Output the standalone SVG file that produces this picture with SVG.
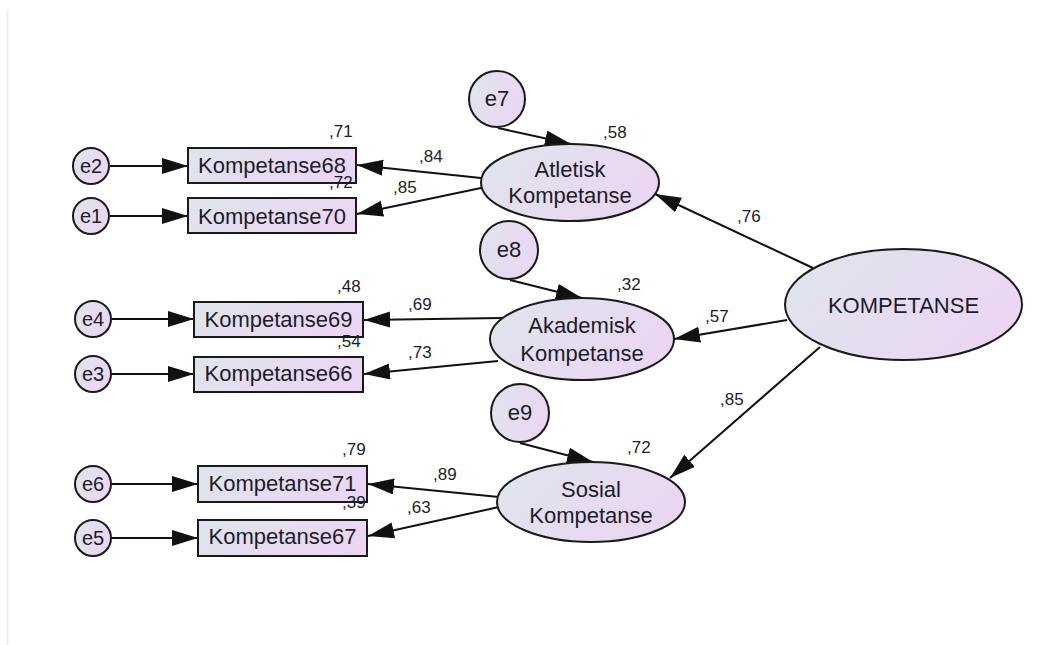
<svg xmlns="http://www.w3.org/2000/svg" width="1050" height="645" viewBox="0 0 1050 645">
<defs>
<linearGradient id="g" x1="0" y1="0.3" x2="1" y2="0.7">
<stop offset="0" stop-color="#dfe4ec"/>
<stop offset="1" stop-color="#ecd5f3"/>
</linearGradient>
<marker id="ah" markerUnits="userSpaceOnUse" markerWidth="28" markerHeight="18" refX="26" refY="8" orient="auto">
<path d="M0,0 L26,8 L0,16 z" fill="#111"/>
</marker>
<style>
.n{fill:url(#g);stroke:#1a1a1a;stroke-width:2}
.t{font-family:"Liberation Sans",Arial,sans-serif;font-size:22px;fill:#1c1c2a;text-anchor:middle}
.e{font-family:"Liberation Sans",Arial,sans-serif;font-size:20px;fill:#1c1c2a;text-anchor:middle}
.l{font-family:"Liberation Sans",Arial,sans-serif;font-size:17px;fill:#1c1c2a}
.c path{stroke:#111;stroke-width:2;fill:none;marker-end:url(#ah)}
</style>
</defs>
<rect width="1050" height="645" fill="#fff"/>
<line x1="7.5" y1="10" x2="7.5" y2="645" stroke="#ececec" stroke-width="1.5"/>

<g id="connectors" class="c">
<path d="M110,166 L188,166"/>
<path d="M110,216 L188,216"/>
<path d="M112,319 L194,319"/>
<path d="M112,374 L194,374"/>
<path d="M112,484 L198,484"/>
<path d="M112,538 L198,538"/>
<path d="M481,178 L357,165"/>
<path d="M481,188 L357,214"/>
<path d="M502,318 L364,320"/>
<path d="M498,361 L364,374"/>
<path d="M499,497 L368,484"/>
<path d="M499,507 L368,536"/>
<path d="M498,128 L571,144"/>
<path d="M510,280 L582,298"/>
<path d="M520,443 L593,462"/>
<path d="M813,268 L655,194"/>
<path d="M787,320 L674,339"/>
<path d="M820,347 L670,478"/>
</g>

<g id="e2"><circle class="n" cx="91" cy="166" r="18"/><text class="e" x="91" y="173">e2</text></g>
<g id="e1"><circle class="n" cx="91" cy="216" r="18"/><text class="e" x="91" y="223">e1</text></g>
<g id="e4"><circle class="n" cx="93" cy="319" r="18"/><text class="e" x="93" y="326">e4</text></g>
<g id="e3"><circle class="n" cx="93" cy="374" r="18"/><text class="e" x="93" y="381">e3</text></g>
<g id="e6"><circle class="n" cx="93" cy="484" r="18"/><text class="e" x="93" y="491">e6</text></g>
<g id="e5"><circle class="n" cx="93" cy="538" r="18"/><text class="e" x="93" y="545">e5</text></g>

<g id="k68"><rect class="n" x="188" y="148" width="168" height="35"/><text class="t" x="272" y="173">Kompetanse68</text></g>
<g id="k70"><rect class="n" x="188" y="198" width="168" height="35"/><text class="t" x="272" y="223.5">Kompetanse70</text></g>
<g id="k69"><rect class="n" x="194" y="302" width="169" height="35"/><text class="t" x="278.5" y="327">Kompetanse69</text></g>
<g id="k66"><rect class="n" x="194" y="357" width="169" height="35"/><text class="t" x="278.5" y="381">Kompetanse66</text></g>
<g id="k71"><rect class="n" x="198" y="466" width="169" height="36"/><text class="t" x="282.5" y="491">Kompetanse71</text></g>
<g id="k67"><rect class="n" x="198" y="520" width="169" height="36"/><text class="t" x="282.5" y="544">Kompetanse67</text></g>

<g id="e7"><circle class="n" cx="497" cy="99" r="28"/><text class="t" x="497" y="106">e7</text></g>
<g id="e8"><circle class="n" cx="509" cy="250" r="29"/><text class="t" x="509" y="257">e8</text></g>
<g id="e9"><circle class="n" cx="520" cy="413" r="29"/><text class="t" x="520" y="420">e9</text></g>

<g id="atletisk"><ellipse class="n" cx="570" cy="182.5" rx="89" ry="38.5"/><text class="t" x="570" y="177">Atletisk</text><text class="t" x="570" y="203">Kompetanse</text></g>
<g id="akademisk"><ellipse class="n" cx="582" cy="339" rx="92" ry="41"/><text class="t" x="582" y="333">Akademisk</text><text class="t" x="582" y="361">Kompetanse</text></g>
<g id="sosial"><ellipse class="n" cx="591" cy="502" rx="94" ry="40"/><text class="t" x="591" y="497">Sosial</text><text class="t" x="591" y="523">Kompetanse</text></g>
<g id="kompetanse"><ellipse class="n" cx="903.5" cy="304.5" rx="118.5" ry="55.5"/><text class="t" x="903.5" y="313">KOMPETANSE</text></g>

<g id="labels" class="l">
<text x="329" y="137">,71</text>
<text x="329" y="188">,72</text>
<text x="419" y="162">,84</text>
<text x="393" y="193">,85</text>
<text x="337" y="292">,48</text>
<text x="337" y="347">,54</text>
<text x="408" y="310">,69</text>
<text x="408" y="358">,73</text>
<text x="342" y="455">,79</text>
<text x="342" y="508">,39</text>
<text x="433" y="480">,89</text>
<text x="407" y="513">,63</text>
<text x="603" y="138">,58</text>
<text x="617" y="290">,32</text>
<text x="627" y="453">,72</text>
<text x="737" y="222">,76</text>
<text x="705" y="322">,57</text>
<text x="720" y="405">,85</text>
</g>
</svg>
